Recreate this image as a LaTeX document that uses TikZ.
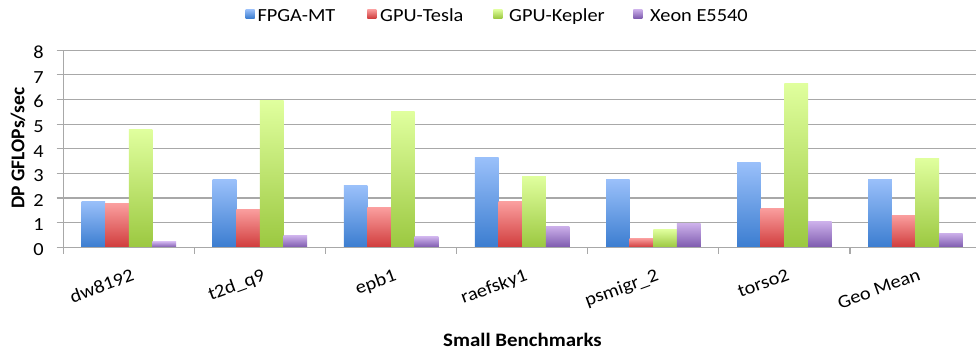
\documentclass[tikz,border=0pt]{standalone}
\usepackage{fontspec}
\setmainfont{Carlito}[FakeStretch=1.1]
\newfontfamily\uprightfont{Carlito}
\definecolor{blueT}{HTML}{9AC0FA}
\definecolor{blueB}{HTML}{3B7DD0}
\definecolor{redT}{HTML}{FA9E9E}
\definecolor{redB}{HTML}{D03C3C}
\definecolor{greenT}{HTML}{E0FF9E}
\definecolor{greenB}{HTML}{9BC840}
\definecolor{purpleT}{HTML}{CCB0EA}
\definecolor{purpleB}{HTML}{7D5AAE}
\definecolor{gridgray}{HTML}{A8A8A8}
\tikzset{
  gridline/.style={draw=gridgray, line width=1.2pt},
  axisline/.style={draw=gridgray, line width=1.2pt},
  ticklabel/.style={font=\fontsize{18.5}{20}\selectfont, inner sep=0pt},
  catlabel/.style={font=\fontsize{18.5}{20}\selectfont, inner sep=0pt, rotate=20, anchor=north east},
  legendtext/.style={font=\fontsize{18.5}{20}\selectfont, inner sep=0pt, anchor=base west},
  bluebar/.style={top color=blueT, bottom color=blueB},
  redbar/.style={top color=redT, bottom color=redB},
  greenbar/.style={top color=greenT, bottom color=greenB},
  purplebar/.style={top color=purpleT, bottom color=purpleB},
}
\begin{document}
\begin{tikzpicture}[x=1pt, y=1pt]
\useasboundingbox (0,0) rectangle (976,-353);
\fill[white] (0,0) rectangle (976,-353);

% horizontal grid and value labels
\foreach \v in {1,...,8}
  \draw[gridline] (56.7,{-247.3+24.63*\v}) -- (976,{-247.3+24.63*\v});
\foreach \v in {0,...,8}
  \node[ticklabel, anchor=base east] (yl\v) at (44,{-247.3+24.63*\v-8.3}) {\v};

% bars, one group per benchmark
\foreach \name/\a/\b/\c/\d [count=\i from 0] in {
    dw8192/1.87/1.77/4.79/0.22,
    t2d\_q9/2.74/1.54/5.95/0.47,
    epb1/2.50/1.61/5.53/0.42,
    raefsky1/3.65/1.84/2.89/0.86,
    psmigr\_2/2.76/0.37/0.73/0.96,
    torso2/3.46/1.58/6.67/1.04,
    Geo Mean/2.77/1.30/3.61/0.58}{
  \pgfmathsetmacro{\xa}{63.3+131.1*\i+18.3}
  \shade[bluebar]   (\xa,-247.3) rectangle ({\xa+23.63},{-247.3+24.63*\a});
  \shade[redbar]    ({\xa+23.63},-247.3) rectangle ({\xa+2*23.63},{-247.3+24.63*\b});
  \shade[greenbar]  ({\xa+2*23.63},-247.3) rectangle ({\xa+3*23.63},{-247.3+24.63*\c});
  \shade[purplebar] ({\xa+3*23.63},-247.3) rectangle ({\xa+4*23.63},{-247.3+24.63*\d});
  \node[catlabel] (cat\i) at ({63.3+131.1*\i+67.5},-268) {\name};
}

% axes and category ticks
\draw[axisline] (56.7,-247.3) -- (976,-247.3);
\draw[axisline] (63.3,-247.3) -- (63.3,{-247.3+24.63*8});
\foreach \k in {0,...,6}
  \draw[axisline] ({63.3+131.1*\k},-247.3) -- ({63.3+131.1*\k},-254);

% axis titles
\node[font=\uprightfont\bfseries\fontsize{19.5}{21}\selectfont, rotate=90, inner sep=0pt] (ytitle) at (18,-148) {DP GFLOPs/sec};
\node[font=\bfseries\fontsize{19}{21}\selectfont, inner sep=0pt, anchor=base] (xtitle) at (522.5,-346) {Small Benchmarks};

% legend
\shade[bluebar]   (245.7,-9.3) rectangle (254.7,-18.3);
\node[legendtext] (lg1) at (257.3,-22) {FPGA-MT};
\shade[redbar]    (367.3,-9.3) rectangle (376.3,-18.3);
\node[legendtext] (lg2) at (380,-22) {GPU-Tesla};
\shade[greenbar]  (493.3,-9.3) rectangle (502.3,-18.3);
\node[legendtext] (lg3) at (509,-22) {GPU-Kepler};
\shade[purplebar] (633.3,-9.3) rectangle (642.3,-18.3);
\node[legendtext] (lg4) at (650,-22) {Xeon E5540};
\end{tikzpicture}
\end{document}
